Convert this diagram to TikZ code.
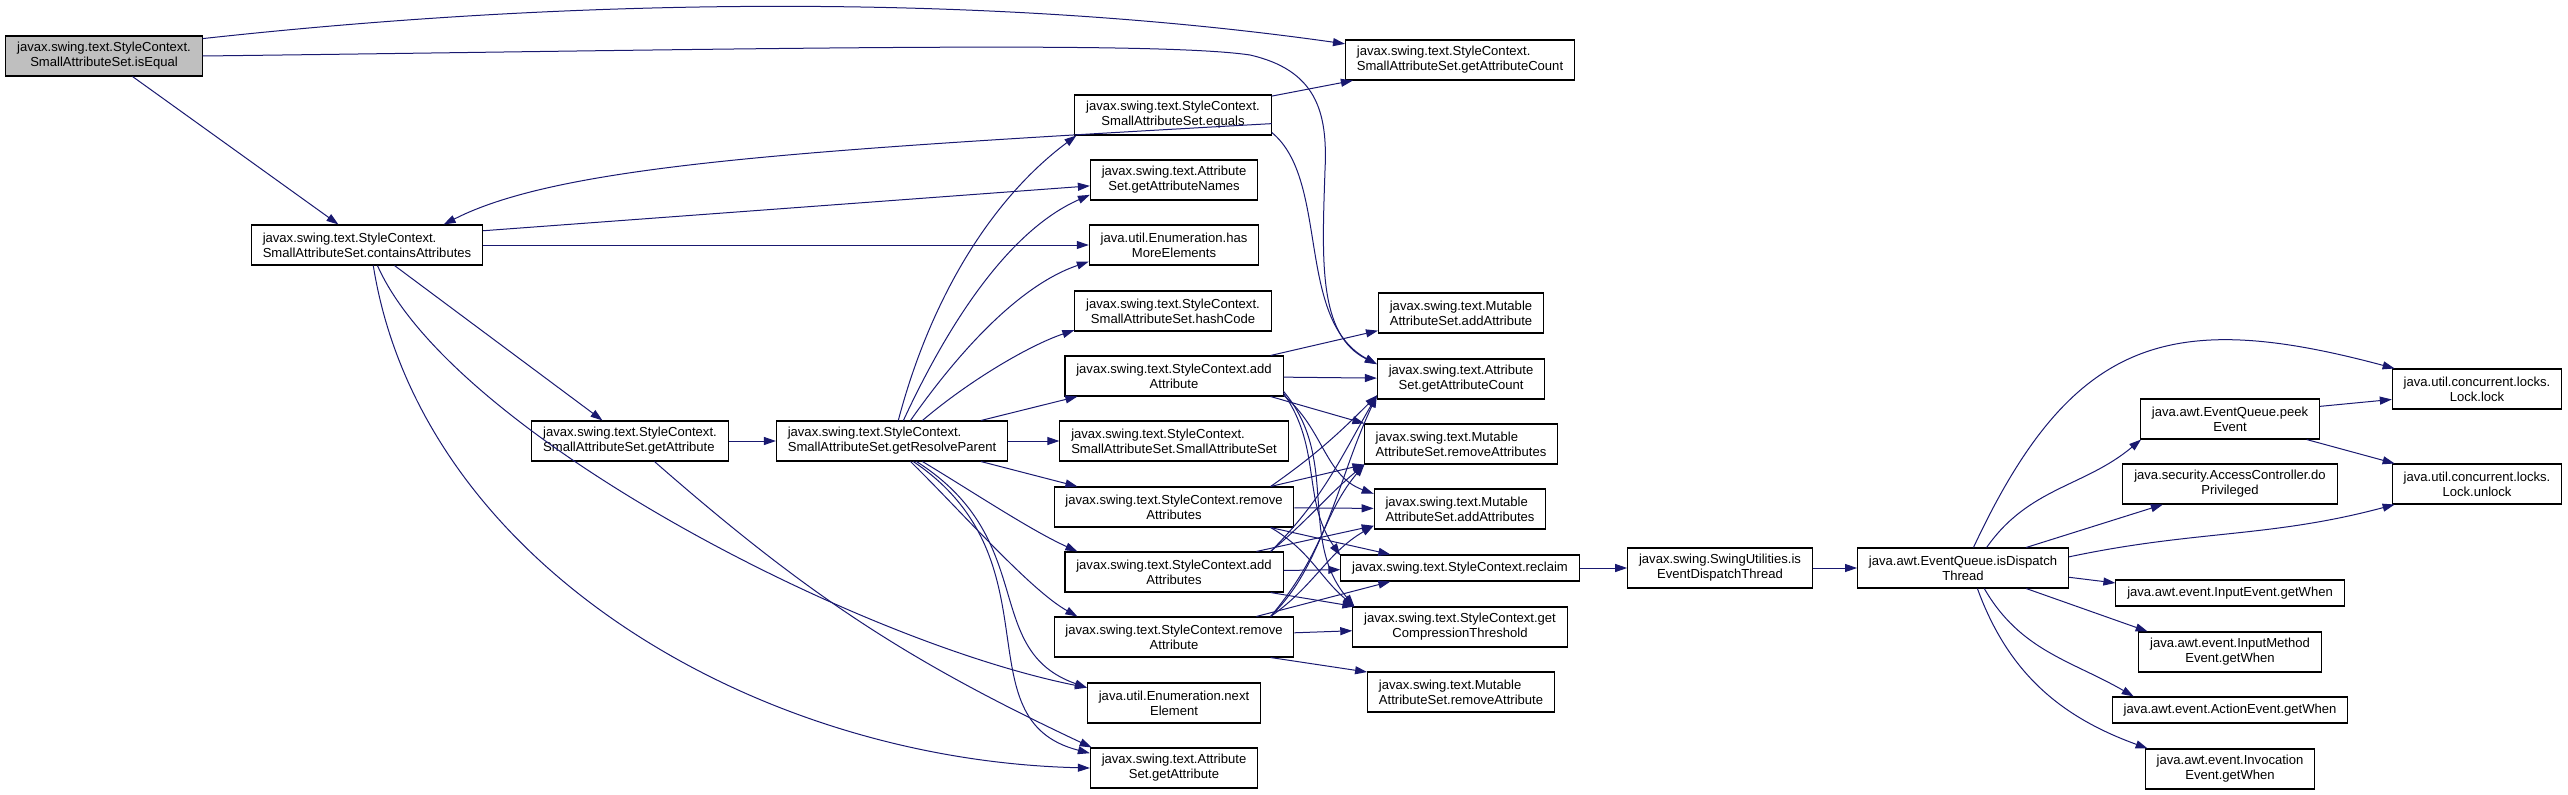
\documentclass[tikz,border=0pt]{standalone}
\usepackage{fontspec}
\setmainfont{Liberation Sans}
\usetikzlibrary{arrows.meta}
\definecolor{edgeblue}{RGB}{25,25,112}
\definecolor{rootgray}{RGB}{191,191,191}

\begin{document}
\begin{tikzpicture}[>={Triangle[length=9pt,width=6pt]}, x=0.75pt, y=-0.75pt,
    fn/.style={draw=black, line width=0.8pt, fill=white, align=center, minimum height=30pt,
               inner xsep=8.5pt, inner ysep=2pt, font=\fontsize{9.8}{11.25}\selectfont},
    fnl/.style={fn, align=left},
    fnone/.style={fn, minimum height=19.5pt},
    call/.style={->, draw=edgeblue, line width=0.75pt}]

    \useasboundingbox (0,0) rectangle (2568,795);

    % Caller
    \node[fn, fill=rootgray] (isEqual) at (104,56) {javax.swing.text.StyleContext.\\SmallAttributeSet.isEqual};
    \node[fnl] (containsAttributes) at (367,245) {javax.swing.text.StyleContext.\\SmallAttributeSet.containsAttributes};
    \node[fnl] (scGetAttribute) at (630,441) {javax.swing.text.StyleContext.\\SmallAttributeSet.getAttribute};
    \node[fnl] (getResolveParent) at (892,441) {javax.swing.text.StyleContext.\\SmallAttributeSet.getResolveParent};

    % Middle column
    \node[fn] (equals) at (1173,115) {javax.swing.text.StyleContext.\\SmallAttributeSet.equals};
    \node[fn] (getAttributeNames) at (1174,180) {javax.swing.text.Attribute\\Set.getAttributeNames};
    \node[fn] (hasMoreElements) at (1174,245) {java.util.Enumeration.has\\MoreElements};
    \node[fn] (hashCode) at (1173,311) {javax.swing.text.StyleContext.\\SmallAttributeSet.hashCode};
    \node[fn] (scAddAttribute) at (1174,376) {javax.swing.text.StyleContext.add\\Attribute};
    \node[fnl] (sasCtor) at (1174,441) {javax.swing.text.StyleContext.\\SmallAttributeSet.SmallAttributeSet};
    \node[fn] (scRemoveAttributes) at (1174,507) {javax.swing.text.StyleContext.remove\\Attributes};
    \node[fn] (scAddAttributes) at (1174,572) {javax.swing.text.StyleContext.add\\Attributes};
    \node[fn] (scRemoveAttribute) at (1174,637) {javax.swing.text.StyleContext.remove\\Attribute};
    \node[fn] (nextElement) at (1174,703) {java.util.Enumeration.next\\Element};
    \node[fn] (asGetAttribute) at (1174,768) {javax.swing.text.Attribute\\Set.getAttribute};

    % Right column
    \node[fnl] (sasGetAttributeCount) at (1460,60) {javax.swing.text.StyleContext.\\SmallAttributeSet.getAttributeCount};
    \node[fnl] (masAddAttribute) at (1461,313) {javax.swing.text.Mutable\\AttributeSet.addAttribute};
    \node[fn] (asGetAttributeCount) at (1461,379) {javax.swing.text.Attribute\\Set.getAttributeCount};
    \node[fnl] (masRemoveAttributes) at (1461,444) {javax.swing.text.Mutable\\AttributeSet.removeAttributes};
    \node[fnl] (masAddAttributes) at (1460,509) {javax.swing.text.Mutable\\AttributeSet.addAttributes};
    \node[fnone] (reclaim) at (1460,568) {javax.swing.text.StyleContext.reclaim};
    \node[fn] (compressionThreshold) at (1460,627) {javax.swing.text.StyleContext.get\\CompressionThreshold};
    \node[fnl] (masRemoveAttribute) at (1461,692) {javax.swing.text.Mutable\\AttributeSet.removeAttribute};

    % Event dispatch
    \node[fn] (isEventDispatch) at (1720,568) {javax.swing.SwingUtilities.is\\EventDispatchThread};
    \node[fn] (isDispatchThread) at (1963,568) {java.awt.EventQueue.isDispatch\\Thread};
    \node[fn] (peekEvent) at (2230,419) {java.awt.EventQueue.peek\\Event};
    \node[fn] (doPrivileged) at (2230,484) {java.security.AccessController.do\\Privileged};
    \node[fnone] (inputWhen) at (2230,593) {java.awt.event.InputEvent.getWhen};
    \node[fn] (inputMethodWhen) at (2230,652) {java.awt.event.InputMethod\\Event.getWhen};
    \node[fnone] (actionWhen) at (2230,710) {java.awt.event.ActionEvent.getWhen};
    \node[fn] (invocationWhen) at (2230,769) {java.awt.event.Invocation\\Event.getWhen};
    \node[fn] (lock) at (2477,389) {java.util.concurrent.locks.\\Lock.lock};
    \node[fn] (unlock) at (2477,484) {java.util.concurrent.locks.\\Lock.unlock};

    % Calls from isEqual
    \draw[call] (isEqual.10) .. controls (600,-5) and (1000,-5) .. (sasGetAttributeCount.172);
    \draw[call] (isEqual.east) .. controls (700,50) and (1150,40) .. (1250,55)
        .. controls (1315,70) and (1328,110) .. (1325,170)
        .. controls (1322,260) and (1318,335) .. (asGetAttributeCount.170);
    \draw[call] (isEqual) -- (containsAttributes);

    % containsAttributes and equals
    \draw[call] (containsAttributes.7) -- (getAttributeNames.184);
    \draw[call] (containsAttributes) -- (hasMoreElements);
    \draw[call] (containsAttributes) -- (scGetAttribute);
    \draw[call] (containsAttributes.-63) .. controls (450,430) and (850,640) .. (nextElement.170);
    \draw[call] (containsAttributes.-73) .. controls (420,560) and (750,760) .. (asGetAttribute.west);
    \draw[call] (equals.-5) .. controls (800,150) and (560,165) .. (containsAttributes.15);
    \draw[call] (equals) -- (sasGetAttributeCount);
    \draw[call] (equals.-10) .. controls (1330,180) and (1295,320) .. (asGetAttributeCount.170);

    % getAttribute and getResolveParent
    \draw[call] (scGetAttribute) -- (getResolveParent);
    \draw[call] (scGetAttribute.-40) to[bend right=8] (asGetAttribute.166);
    \draw[call] (getResolveParent.73) .. controls (930,300) and (990,200) .. (equals.192);
    \draw[call] (getResolveParent.61) .. controls (950,320) and (1010,230) .. (getAttributeNames.190);
    \draw[call] (getResolveParent.48) .. controls (960,350) and (1020,285) .. (hasMoreElements.191);
    \draw[call] (getResolveParent.34) .. controls (970,380) and (1030,345) .. (hashCode.191);
    \draw[call] (getResolveParent.13) -- (scAddAttribute.192);
    \draw[call] (getResolveParent) -- (sasCtor);
    \draw[call] (getResolveParent.-13) -- (scRemoveAttributes.168);
    \draw[call] (getResolveParent.-34) .. controls (970,490) and (1030,530) .. (scAddAttributes.168);
    \draw[call] (getResolveParent.-48) .. controls (960,510) and (1030,590) .. (scRemoveAttribute.168);
    \draw[call] (getResolveParent.-40) .. controls (1040,540) and (980,650) .. (nextElement.170);
    \draw[call] (getResolveParent.-44) .. controls (1060,560) and (960,720) .. (asGetAttribute.170);

    % StyleContext add/remove
    \draw[call] (scAddAttribute.12) -- (masAddAttribute.192);
    \draw[call] (scAddAttribute) -- (asGetAttributeCount);
    \draw[call] (scAddAttribute.-12) -- (masRemoveAttributes.168);
    \draw[call] (scAddAttribute.-10) to[out=-40,in=160] (masAddAttributes.170);
    \draw[call] (scAddAttribute.-9) to[out=-55,in=125] (reclaim.174);
    \draw[call] (scAddAttribute.-8) to[out=-50,in=130] (compressionThreshold.169);

    \draw[call] (scRemoveAttributes.12) to[out=35,in=-135] (asGetAttributeCount.191);
    \draw[call] (scRemoveAttributes.12) -- (masRemoveAttributes.192);
    \draw[call] (scRemoveAttributes) -- (masAddAttributes);
    \draw[call] (scRemoveAttributes.-12) -- (reclaim.169);
    \draw[call] (scRemoveAttributes.-12) to[out=-30,in=140] (compressionThreshold.169);

    \draw[call] (scAddAttributes.12) to[out=45,in=-120] (asGetAttributeCount.191);
    \draw[call] (scAddAttributes.12) to[out=40,in=-140] (masRemoveAttributes.192);
    \draw[call] (scAddAttributes.14) -- (masAddAttributes.191);
    \draw[call] (scAddAttributes) -- (reclaim);
    \draw[call] (scAddAttributes.-12) -- (compressionThreshold.169);

    \draw[call] (scRemoveAttribute.12) to[out=50,in=-115] (asGetAttributeCount.191);
    \draw[call] (scRemoveAttribute.12) to[out=45,in=-130] (masRemoveAttributes.192);
    \draw[call] (scRemoveAttribute.12) to[out=35,in=-150] (masAddAttributes.191);
    \draw[call] (scRemoveAttribute.14) -- (reclaim.191);
    \draw[call] (scRemoveAttribute) -- (compressionThreshold);
    \draw[call] (scRemoveAttribute.-12) -- (masRemoveAttribute.168);

    % Dispatch thread
    \draw[call] (reclaim) -- (isEventDispatch);
    \draw[call] (isEventDispatch) -- (isDispatchThread);
    \draw[call] (isDispatchThread.63) to[out=65,in=165,looseness=1.3] (lock.166);
    \draw[call] (isDispatchThread.41) to[out=55,in=-140] (peekEvent.193);
    \draw[call] (isDispatchThread.18) -- (doPrivileged.197);
    \draw[call] (isDispatchThread.6) to[out=12,in=-165] (unlock.194);
    \draw[call] (isDispatchThread.-5) -- (inputWhen.175);
    \draw[call] (isDispatchThread.-18) -- (inputMethodWhen.166);
    \draw[call] (isDispatchThread.-44) to[out=-60,in=150] (actionWhen.172);
    \draw[call] (isDispatchThread.-55) to[out=-70,in=160] (invocationWhen.166);
    \draw[call] (peekEvent.8) -- (lock.187);
    \draw[call] (peekEvent.-15) -- (unlock.166);
\end{tikzpicture}
\end{document}
